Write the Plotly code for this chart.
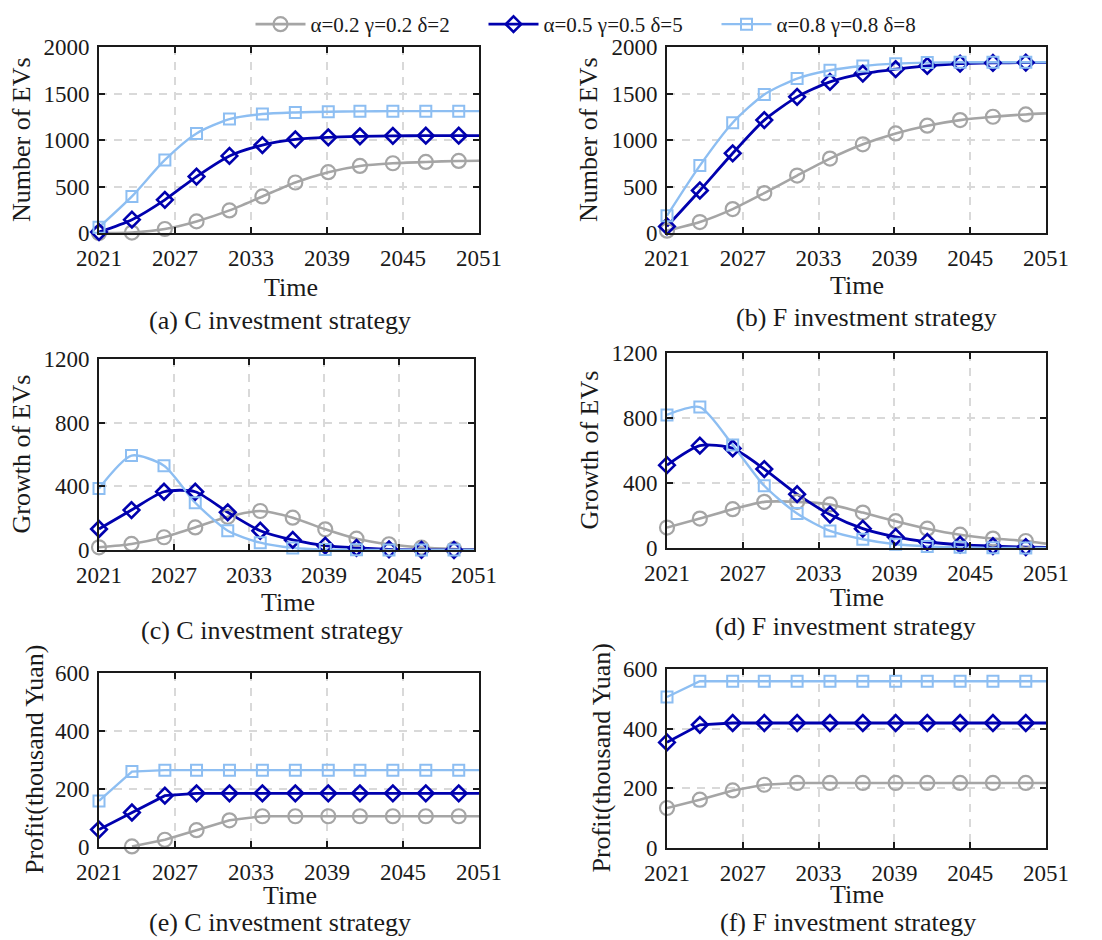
import plotly.graph_objects as go

# ---------------- data ----------------
times = [2021.0, 2023.6, 2026.2, 2028.7, 2031.3, 2033.9, 2036.5, 2039.1,
         2041.6, 2044.2, 2046.8, 2049.4, 2051.0]   # last point: end of line (no marker)
x_ticks = [2021, 2027, 2033, 2039, 2045, 2051]

series_names = ["α=0.2 γ=0.2 δ=2", "α=0.5 γ=0.5 δ=5", "α=0.8 γ=0.8 δ=8"]

# (a) Number of EVs, C strategy
num_c_low = [0, 5, 43, 125, 243, 393, 543, 654, 721, 750, 764, 775, 777]
num_c_mid = [10, 143, 357, 607, 829, 946, 1007, 1029, 1039, 1045, 1046, 1046, 1046]
num_c_high = [61, 393, 786, 1071, 1225, 1279, 1296, 1304, 1308, 1310, 1310, 1310, 1310]
# (b) Number of EVs, F strategy
num_f_low = [25, 118, 257, 429, 618, 800, 954, 1071, 1154, 1214, 1250, 1275, 1286]
num_f_mid = [71, 457, 857, 1214, 1464, 1625, 1714, 1761, 1796, 1821, 1829, 1832, 1833]
num_f_high = [186, 725, 1186, 1489, 1661, 1750, 1796, 1821, 1832, 1836, 1836, 1836, 1836]
# (c) Growth of EVs, C strategy
gro_c_low = [17, 38, 80, 142, 209, 245, 203, 130, 71, 36, 15, 6, 4]
gro_c_mid = [132, 251, 366, 366, 237, 121, 63, 27, 13, 4, 1, 0, 0]
gro_c_high = [387, 593, 530, 297, 121, 46, 13, 3, 1, 0, 0, 0, 0]
# (d) Growth of EVs, F strategy
gro_f_low = [126, 181, 239, 284, 284, 268, 218, 165, 119, 82, 58, 43, 27]
gro_f_mid = [510, 630, 613, 486, 331, 206, 119, 68, 37, 21, 12, 6, 4]
gro_f_high = [819, 867, 634, 383, 212, 105, 54, 23, 10, 4, 1, 0, 0]
# (e) Profit, C strategy
pro_c_low = [None, 2, 25, 58, 92, 106, 106, 106, 106, 106, 106, 106, 106]
pro_c_mid = [60, 119, 177, 185, 185, 185, 185, 185, 185, 185, 185, 185, 185]
pro_c_high = [159, 260, 265, 265, 265, 265, 265, 265, 265, 265, 265, 265, 265]
# (f) Profit, F strategy
pro_f_low = [134, 162, 193, 212, 218, 218, 218, 218, 218, 218, 218, 218, 218]
pro_f_mid = [354, 413, 419, 419, 419, 419, 419, 419, 419, 419, 419, 419, 419]
pro_f_high = [506, 559, 559, 559, 559, 559, 559, 559, 559, 559, 559, 559, 559]

panels = [
    dict(key="a", ys=[num_c_low, num_c_mid, num_c_high], ytitle="Number of EVs",
         yrange=[0, 2000], dtick=500, cap="(a) C investment strategy", shape="spline"),
    dict(key="b", ys=[num_f_low, num_f_mid, num_f_high], ytitle="Number of EVs",
         yrange=[0, 2000], dtick=500, cap="(b) F investment strategy", shape="spline"),
    dict(key="c", ys=[gro_c_low, gro_c_mid, gro_c_high], ytitle="Growth of EVs",
         yrange=[0, 1200], dtick=400, cap="(c) C investment strategy", shape="spline"),
    dict(key="d", ys=[gro_f_low, gro_f_mid, gro_f_high], ytitle="Growth of EVs",
         yrange=[0, 1200], dtick=400, cap="(d) F investment strategy", shape="spline"),
    dict(key="e", ys=[pro_c_low, pro_c_mid, pro_c_high], ytitle="Profit(thousand Yuan)",
         yrange=[0, 600], dtick=200, cap="(e) C investment strategy", shape="linear"),
    dict(key="f", ys=[pro_f_low, pro_f_mid, pro_f_high], ytitle="Profit(thousand Yuan)",
         yrange=[0, 600], dtick=200, cap="(f) F investment strategy", shape="linear"),
]

# ---------------- layout geometry (pixels, page coordinates) ----------------
OFF = 8                      # default page body margin
W, H = 1102 - OFF, 940 - OFF  # figure size so that it fits the window
boxes = {  # left, right, top, bottom in page px
    "a": (99, 479, 47, 233),
    "b": (667, 1046, 47, 233),
    "c": (99, 474, 359, 550),
    "d": (667, 1046, 353, 548),
    "e": (99, 479, 673, 847),
    "f": (667, 1046, 669, 848),
}
ytitle_x = {"a": 22, "b": 589, "c": 21, "d": 589, "e": 34, "f": 601}
time_pos = {"a": (291, 287), "b": (857, 286), "c": (288, 602),
            "d": (857, 597), "e": (290, 895), "f": (857, 894)}
cap_pos = {"a": (280, 321), "b": (866, 317), "c": (272, 630),
           "d": (845, 626), "e": (280, 922), "f": (848, 922)}


def px_x(v):
    return (v - OFF) / W


def px_y(v):
    return 1 - (v - OFF) / H


colors = ["#A5A5A5", "#0000AE", "#8DBEF2"]
symbols = ["circle-open", "diamond-open", "square-open"]
msizes = [14, 12, 11]
mwidths = [2.2, 2.6, 2.0]
lwidths = [2.6, 2.8, 2.4]

FONT = "Liberation Serif"
TICK_FS = 23
LAB_FS = 26
LEG_FS = 21
TXT = "#1a1a1a"

fig = go.Figure()
annotations = []
layout_axes = {}

for i, p in enumerate(panels):
    n = "" if i == 0 else str(i + 1)
    xa, ya = "x" + n, "y" + n
    l, r, t, b = boxes[p["key"]]
    layout_axes["xaxis" + n] = dict(
        domain=[px_x(l), px_x(r)], anchor=ya, range=[2021, 2051],
        tickvals=x_ticks, ticks="inside", ticklen=6, tickwidth=2, tickcolor=TXT,
        showline=True, linewidth=2, linecolor=TXT, mirror="ticks",
        showgrid=True, gridcolor="#D9D9D9", gridwidth=1.6, griddash="8px,7px",
        zeroline=False, tickfont=dict(family=FONT, size=TICK_FS, color=TXT),
        ticklabelstandoff=3,
    )
    layout_axes["yaxis" + n] = dict(
        domain=[px_y(b), px_y(t)], anchor=xa, range=p["yrange"], dtick=p["dtick"],
        tick0=0, ticks="inside", ticklen=6, tickwidth=2, tickcolor=TXT,
        showline=True, linewidth=2, linecolor=TXT, mirror="ticks",
        showgrid=True, gridcolor="#D9D9D9", gridwidth=1.6, griddash="8px,7px",
        zeroline=False, tickfont=dict(family=FONT, size=TICK_FS, color=TXT),
        ticklabelstandoff=3,
    )
    for s in range(3):
        yv = p["ys"][s]
        fig.add_trace(go.Scatter(
            x=times, y=yv, xaxis=xa, yaxis=ya, mode="lines",
            line=dict(color=colors[s], width=lwidths[s], shape=p["shape"], smoothing=0.7),
            showlegend=False, hoverinfo="skip"))
    for s in range(3):
        yv = p["ys"][s]
        fig.add_trace(go.Scatter(
            x=times[:-1], y=yv[:-1], xaxis=xa, yaxis=ya, mode="markers",
            marker=dict(symbol=symbols[s], size=msizes[s], color=colors[s],
                        line=dict(width=mwidths[s], color=colors[s])),
            cliponaxis=False, showlegend=False))
    annotations.append(dict(
        x=px_x(ytitle_x[p["key"]]), y=px_y((t + b) / 2), xref="paper", yref="paper",
        text=p["ytitle"], textangle=-90, showarrow=False, xanchor="center", yanchor="middle",
        font=dict(family=FONT, size=LAB_FS, color=TXT)))
    tx, ty = time_pos[p["key"]]
    annotations.append(dict(
        x=px_x(tx), y=px_y(ty), xref="paper", yref="paper", text="Time", showarrow=False,
        xanchor="center", yanchor="middle", font=dict(family=FONT, size=LAB_FS, color=TXT)))
    cx, cy = cap_pos[p["key"]]
    annotations.append(dict(
        x=px_x(cx), y=px_y(cy), xref="paper", yref="paper", text=p["cap"], showarrow=False,
        xanchor="center", yanchor="middle", font=dict(family=FONT, size=LAB_FS, color=TXT)))

# legend entries
for s in range(3):
    fig.add_trace(go.Scatter(
        x=[None], y=[None], mode="lines+markers", name=series_names[s],
        line=dict(color=colors[s], width=lwidths[s]),
        marker=dict(symbol=symbols[s], size=msizes[s], color=colors[s],
                    line=dict(width=mwidths[s], color=colors[s])),
        showlegend=True))

fig.update_layout(
    width=W, height=H, autosize=False,
    margin=dict(l=0, r=0, t=0, b=0, autoexpand=False),
    paper_bgcolor="white", plot_bgcolor="white",
    font=dict(family=FONT, size=TICK_FS, color=TXT),
    showlegend=True,
    legend=dict(orientation="h", x=px_x(600), xanchor="center", y=px_y(4), yanchor="top",
                font=dict(family=FONT, size=LEG_FS, color=TXT),
                bgcolor="rgba(0,0,0,0)", entrywidth=168, entrywidthmode="pixels",
                itemwidth=50, tracegroupgap=0),
    annotations=annotations,
    **layout_axes,
)

fig.write_html("out.html")
